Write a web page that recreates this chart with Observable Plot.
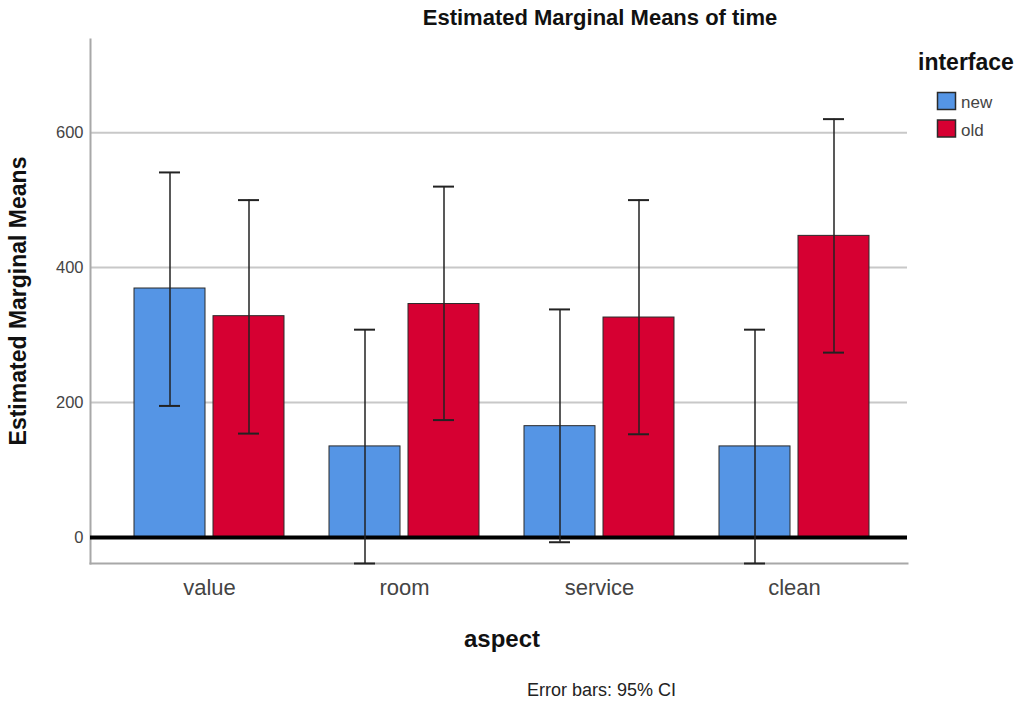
<!DOCTYPE html>
<html>
<head>
<meta charset="utf-8">
<script src="https://cdn.jsdelivr.net/npm/d3@7"></script>
<script src="https://cdn.jsdelivr.net/npm/@observablehq/plot@0.6"></script>
<style>
  html, body { margin: 0; padding: 0; background: #fff; }
  #chart { position: relative; width: 1031px; height: 702px; }
</style>
</head>
<body>
<div id="chart"></div>
<script>
const aspects = ["value", "room", "service", "clean"];
const groups = ["new", "old"];
const colors = ["#5595e5", "#d60032"];
const newMeans = [369, 135, 165, 135];
const oldMeans = [328, 346, 326, 447];
const newLower = [195, -38.5, -7, -38.5];
const newUpper = [541, 308, 338, 308];
const oldLower = [154, 174, 153, 274];
const oldUpper = [500, 520, 500, 620];
const yTicks = [0, 200, 400, 600];

const rowsNew = aspects.map((a, i) => ({aspect: a, group: "new", mean: newMeans[i], lo: newLower[i], hi: newUpper[i]}));
const rowsOld = aspects.map((a, i) => ({aspect: a, group: "old", mean: oldMeans[i], lo: oldLower[i], hi: oldUpper[i]}));

const W = 1031, H = 702;
const ml = 90, mr = 124, mt = 39, mb = 139;
const bandW = 150, barW = 71;
const off = (bandW / 2) - barW / 2;
const capHalf = 10.5;

const font = "'Liberation Sans', Arial, sans-serif";

const plot = Plot.plot({
  width: W,
  height: H,
  marginLeft: ml,
  marginRight: mr,
  marginTop: mt,
  marginBottom: mb,
  style: {fontFamily: font, background: "#fff", overflow: "visible"},
  x: {type: "band", domain: aspects, range: [111.5, 891.5], paddingInner: 0.2308, paddingOuter: 0.1154, label: null, tickSize: 0, tickPadding: 16},
  y: {domain: [-38.5, 738], label: null, ticks: yTicks, tickSize: 0, tickPadding: 7},
  marks: [
    Plot.gridY([200, 400, 600], {stroke: "#c8c8c8", strokeOpacity: 1, strokeWidth: 2}),
    Plot.frame({anchor: "left", stroke: "#a8a8a8", strokeWidth: 2}),
    Plot.frame({anchor: "bottom", stroke: "#a8a8a8", strokeWidth: 2}),
    Plot.barY(rowsNew, {x: "aspect", y: "mean", fill: colors[0], stroke: "#2a2a2a", strokeWidth: 1, insetRight: bandW - barW}),
    Plot.barY(rowsOld, {x: "aspect", y: "mean", fill: colors[1], stroke: "#2a2a2a", strokeWidth: 1, insetLeft: bandW - barW}),
    Plot.ruleY([0], {stroke: "#000", strokeWidth: 4}),
    Plot.ruleX(rowsNew, {x: "aspect", y1: "lo", y2: "hi", dx: -off, stroke: "#222", strokeWidth: 1.5}),
    Plot.ruleX(rowsOld, {x: "aspect", y1: "lo", y2: "hi", dx: off, stroke: "#222", strokeWidth: 1.5}),
    Plot.tickY(rowsNew, {x: "aspect", y: "hi", insetLeft: barW / 2 - capHalf, insetRight: bandW - barW / 2 - capHalf, stroke: "#222", strokeWidth: 2}),
    Plot.tickY(rowsNew, {x: "aspect", y: "lo", insetLeft: barW / 2 - capHalf, insetRight: bandW - barW / 2 - capHalf, stroke: "#222", strokeWidth: 2}),
    Plot.tickY(rowsOld, {x: "aspect", y: "hi", insetLeft: bandW - barW / 2 - capHalf, insetRight: barW / 2 - capHalf, stroke: "#222", strokeWidth: 2}),
    Plot.tickY(rowsOld, {x: "aspect", y: "lo", insetLeft: bandW - barW / 2 - capHalf, insetRight: barW / 2 - capHalf, stroke: "#222", strokeWidth: 2})
  ]
});

document.getElementById("chart").appendChild(plot);

const svg = d3.select(plot);
svg.selectAll("[aria-label='y-axis tick label']").attr("font-size", 16.5).attr("fill", "#444");
svg.selectAll("[aria-label='y-axis tick label'] text").attr("font-size", 16.5).attr("fill", "#444");
svg.selectAll("[aria-label='x-axis tick label']").attr("font-size", 22).attr("fill", "#444");
svg.selectAll("[aria-label='x-axis tick label'] text").attr("font-size", 22).attr("fill", "#444");

function addText(x, y, str, size, opts = {}) {
  const t = svg.append("text")
    .attr("x", x).attr("y", y)
    .attr("text-anchor", opts.anchor || "start")
    .attr("font-family", font)
    .attr("font-weight", opts.bold ? "bold" : "normal")
    .attr("font-size", size)
    .attr("fill", opts.fill || "#111")
    .text(str);
  if (opts.transform) t.attr("transform", opts.transform);
  return t;
}

addText(600, 25, "Estimated Marginal Means of time", 22, {anchor: "middle", bold: true});
addText(0, 0, "Estimated Marginal Means", 23, {anchor: "middle", bold: true, transform: "translate(26,301) rotate(-90)"});
addText(502, 647, "aspect", 24, {anchor: "middle", bold: true});
addText(527, 696, "Error bars: 95% CI", 18, {fill: "#222"});
addText(918, 70, "interface", 23, {bold: true});
groups.forEach((g, i) => {
  svg.append("rect").attr("x", 937.5).attr("y", 92.5 + i * 27.5).attr("width", 18).attr("height", 17)
    .attr("fill", colors[i]).attr("stroke", "#2a2a2a").attr("stroke-width", 1.5);
  addText(961, 108 + i * 27.5, g, 17, {fill: "#444"});
});
</script>
</body>
</html>
